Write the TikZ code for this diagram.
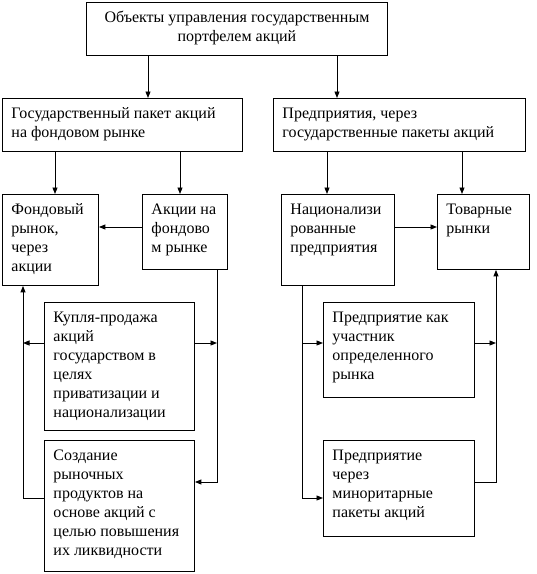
\documentclass[tikz,border=0pt]{standalone}
\usepackage{fontspec}
\setmainfont{Liberation Serif}
\newfontfamily\tnr{Liberation Serif}
\usetikzlibrary{arrows.meta}
\newcommand{\fst}{\rule{0pt}{20pt}}
\tikzset{
  boxst/.style={draw, line width=0.9pt, inner sep=0pt, anchor=north west},
  conn/.style={line width=0.9pt},
  arr/.style={conn, -{Triangle[length=6.5pt,width=5pt]}}
}
\newcommand{\mybox}[6]{%
  \node[boxst] (#1) at (#2,#3) {\parbox[c][#5pt][t]{#4pt}{\raggedright\leftskip=9pt #6}};}
\begin{document}
\begin{tikzpicture}[x=1pt,y=-1pt,font=\tnr\fontsize{16}{19}\selectfont]
\useasboundingbox (0,0) rectangle (537,574);
% boxes
\node[boxst] (top) at (86,2) {\parbox[c][53pt][t]{301pt}{\centering\fst Объекты управления государственным\\портфелем акций}};
\mybox{A}{2}{98}{240}{53}{\fst Государственный пакет акций\\на фондовом рынке}
\mybox{B}{273}{98}{252}{53}{\fst Предприятия, через\\государственные пакеты акций}
\mybox{C}{2}{194}{96}{91}{\fst Фондовый\\рынок,\\через\\акции}
\mybox{D}{142}{194}{85}{75}{\fst Акции на\\фондово\\м рынке}
\mybox{E}{281}{194}{113}{91}{\fst Национализи\\рованные\\предприятия}
\mybox{F}{437}{194}{92}{75}{\fst Товарные\\рынки}
\mybox{G}{44}{302}{150}{128}{\fst Купля-продажа\\акций\\государством в\\целях\\приватизации и\\национализации}
\mybox{H}{44}{440}{150}{131}{\fst Создание\\рыночных\\продуктов на\\основе акций с\\целью повышения\\их ликвидности}
\mybox{I}{323}{302}{151}{95}{\fst Предприятие как\\участник\\определенного\\рынка}
\mybox{J}{323}{440}{151}{96}{\fst Предприятие\\через\\миноритарные\\пакеты акций}
% helper coordinates
\coordinate (x148) at (148,0);
\coordinate (x337) at (337,0);
\coordinate (x55) at (55,0);
\coordinate (x180) at (180,0);
\coordinate (x327) at (327,0);
\coordinate (x462) at (462,0);
\coordinate (x23) at (23,0);
\coordinate (x217) at (217,0);
\coordinate (x302) at (302,0);
\coordinate (x496) at (496,0);
\coordinate (y227) at (0,227);
\coordinate (y343) at (0,343);
\coordinate (y482) at (0,482);
\coordinate (y498) at (0,498);
% connectors
\draw[arr] (top.south -| x148) -- (A.north -| x148);
\draw[arr] (top.south -| x337) -- (B.north -| x337);
\draw[arr] (A.south -| x55) -- (C.north -| x55);
\draw[arr] (A.south -| x180) -- (D.north -| x180);
\draw[arr] (B.south -| x327) -- (E.north -| x327);
\draw[arr] (B.south -| x462) -- (F.north -| x462);
\draw[arr] (D.west |- y227) -- (C.east |- y227);
\draw[arr] (E.east |- y227) -- (F.west |- y227);
% left group
\draw[arr] (H.west |- y498) -| (C.south -| x23);
\draw[arr] (G.west |- y343) -- (x23 |- y343);
\draw[arr] (D.south -| x217) |- (H.east |- y482);
\draw[arr] (G.east |- y343) -- (x217 |- y343);
% right group
\draw[arr] (E.south -| x302) |- (J.west |- y498);
\draw[arr] (x302 |- y343) -- (I.west |- y343);
\draw[arr] (J.east |- y482) -| (F.south -| x496);
\draw[arr] (I.east |- y343) -- (x496 |- y343);
\end{tikzpicture}
\end{document}
